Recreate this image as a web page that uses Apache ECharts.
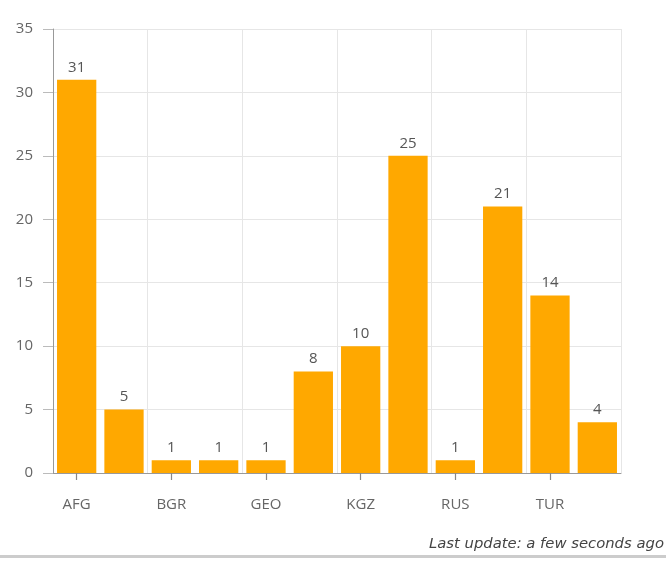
<!DOCTYPE html>
<html><head><meta charset="utf-8">
<script src="https://cdn.jsdelivr.net/npm/echarts@6/dist/echarts.min.js"></script>
<style>html,body{margin:0;padding:0;background:#fff}#c{width:666px;height:562px}</style>
</head><body><div id="c"></div>
<script>
var categories = ['AFG','ARM','BGR','CHN','GEO','IRN','KGZ','PAK','RUS','TJK','TUR','UZB'];
var values = [31,5,1,1,1,8,10,25,1,21,14,4];
var yTicks = {min:0, max:35, interval:5};
var footer = 'Last update: a few seconds ago';

var chart = echarts.init(document.getElementById('c'));
chart.setOption({
  animation:false,
  grid:{left:53,right:45,top:29,bottom:89,containLabel:false},
  xAxis:{
    type:'category', data:categories,
    axisLine:{show:true,lineStyle:{color:'#999',width:1}},
    axisTick:{show:true,alignWithLabel:true,interval:1,length:7,lineStyle:{color:'#888',width:1.2}},
    axisLabel:{interval:1,margin:24,color:'#666',fontSize:15,fontFamily:'Open Sans'},
    splitLine:{show:true,interval:1,lineStyle:{color:'#e6e6e6'}}
  },
  yAxis:{
    type:'value', min:yTicks.min, max:yTicks.max, interval:yTicks.interval,
    axisLine:{show:true,lineStyle:{color:'#999'}},
    axisTick:{show:true,length:10,lineStyle:{color:'#bbb'}},
    axisLabel:{margin:20,color:'#666',fontSize:15,fontFamily:'Open Sans'},
    splitLine:{show:true,lineStyle:{color:'#e6e6e6'}}
  },
  series:[{
    type:'bar', data:values, barCategoryGap:'17%',
    itemStyle:{color:'#FFA800'},
    label:{show:true,position:'top',distance:5,color:'#555',fontSize:15,fontFamily:'Open Sans'}
  }],
  graphic:[
    {type:'text',left:429,top:537,style:{text:footer,font:'oblique 14.8px "DejaVu Sans"',fill:'#444'}},
    {type:'rect',left:0,top:555,shape:{width:666,height:3},style:{fill:'#ccc'}}
  ]
});
</script></body></html>
